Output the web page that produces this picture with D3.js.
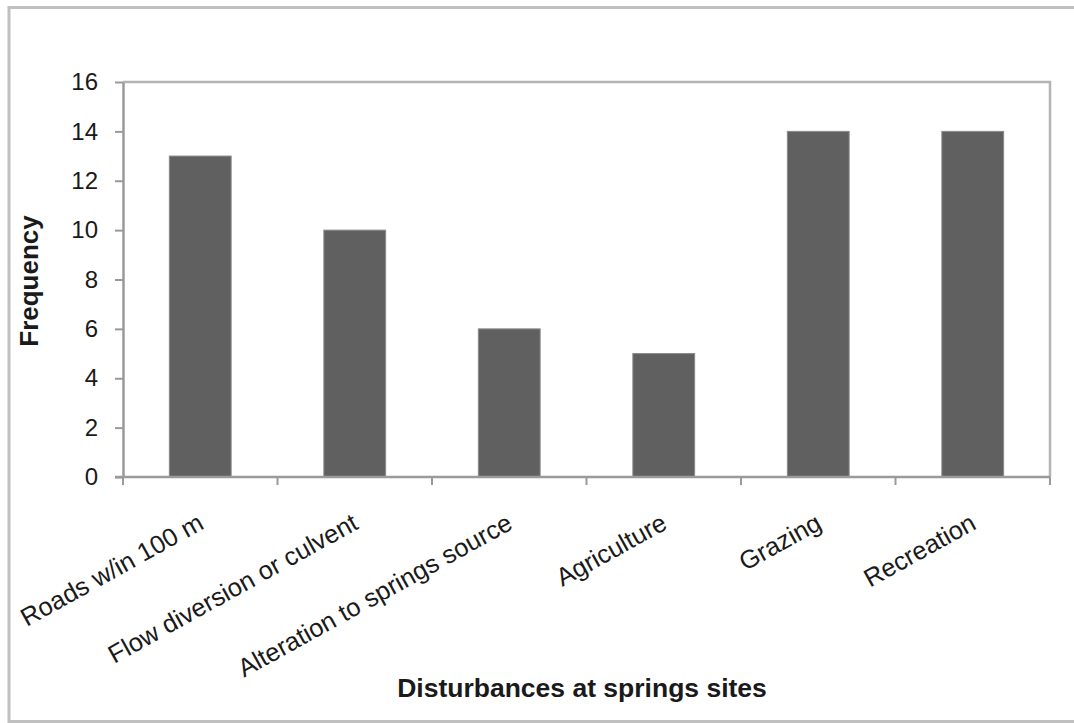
<!DOCTYPE html>
<html>
<head>
<meta charset="utf-8">
<script src="https://cdn.jsdelivr.net/npm/d3@7/dist/d3.min.js"></script>
<style>
  html, body { margin: 0; padding: 0; background: #fff; overflow: hidden; }
  svg { display: block; }
  text { font-family: "Liberation Sans", Arial, Helvetica, sans-serif; fill: #1a1a1a; }
</style>
</head>
<body>
<svg id="chart" width="1074" height="723"></svg>
<script>
// Frequency of each disturbance type recorded at springs sites
const categories = [
  "Roads w/in 100 m",
  "Flow diversion or culvent",
  "Alteration to springs source",
  "Agriculture",
  "Grazing",
  "Recreation"
];
const frequency = [13, 10, 6, 5, 14, 14];
const yTicks = [0, 2, 4, 6, 8, 10, 12, 14, 16];
const xTitle = "Disturbances at springs sites";
const yTitle = "Frequency";

const svg = d3.select("#chart");
const W = 1074, H = 723;
const plot = { left: 123, right: 1050, top: 82, bottom: 477 };

// outer chart frame (right side runs past the edge)
svg.append("path")
  .attr("d", `M${W + 10},7.5H9V721.5H${W + 10}`)
  .attr("fill", "none")
  .attr("stroke", "#c0c0c0").attr("stroke-width", 3);

const x = d3.scaleBand()
  .domain(categories)
  .range([plot.left, plot.right])
  .paddingInner(0.6)
  .paddingOuter(0.3);

const y = d3.scaleLinear()
  .domain([0, 16])
  .range([plot.bottom, plot.top]);

// plot area border (top and right)
svg.append("path")
  .attr("d", `M${plot.left},${plot.top}H${plot.right}V${plot.bottom}`)
  .attr("fill", "none")
  .attr("stroke", "#b4b4b4").attr("stroke-width", 2.5);

// bars
svg.append("g").selectAll("rect")
  .data(categories)
  .join("rect")
  .attr("x", d => x(d))
  .attr("width", x.bandwidth())
  .attr("y", (d, i) => y(frequency[i]))
  .attr("height", (d, i) => y(0) - y(frequency[i]))
  .attr("fill", "#606060")
  .attr("stroke", "#8a8a8a").attr("stroke-width", 1);

// y axis
const yAxis = svg.append("g")
  .attr("transform", `translate(${plot.left},0)`)
  .call(d3.axisLeft(y).tickValues(yTicks).tickSize(8).tickPadding(17).tickSizeOuter(0));
yAxis.select(".domain").attr("stroke", "#9a9a9a").attr("stroke-width", 2.5);
yAxis.selectAll(".tick line").attr("stroke", "#9a9a9a").attr("stroke-width", 2);
yAxis.selectAll(".tick text")
  .attr("font-size", 24)
  .attr("font-family", "Liberation Sans, Arial, sans-serif")
  .attr("fill", "#1a1a1a");

// x axis: ticks sit on category boundaries
const bounds = d3.range(categories.length + 1).map(i => plot.left + i * x.step());
const xg = svg.append("g");
xg.append("line")
  .attr("x1", plot.left - 8).attr("x2", plot.right)
  .attr("y1", plot.bottom).attr("y2", plot.bottom)
  .attr("stroke", "#9a9a9a").attr("stroke-width", 2.5);
xg.selectAll("line.tk")
  .data(bounds)
  .join("line").attr("class", "tk")
  .attr("x1", d => d).attr("x2", d => d)
  .attr("y1", plot.bottom).attr("y2", plot.bottom + 8)
  .attr("stroke", "#9a9a9a").attr("stroke-width", 2);

// rotated category labels
xg.selectAll("text")
  .data(categories)
  .join("text")
  .attr("transform", d => `translate(${x(d) + x.bandwidth() / 2 + 5},${plot.bottom + 51}) rotate(-29)`)
  .attr("text-anchor", "end")
  .attr("font-size", 25.5)
  .text(d => d);

// axis titles
svg.append("text")
  .attr("x", 582).attr("y", 697)
  .attr("text-anchor", "middle")
  .attr("font-size", 26.5).attr("font-weight", "bold")
  .text(xTitle);

svg.append("text")
  .attr("transform", `translate(38,281) rotate(-90)`)
  .attr("text-anchor", "middle")
  .attr("font-size", 26).attr("font-weight", "bold")
  .text(yTitle);
</script>
</body>
</html>
